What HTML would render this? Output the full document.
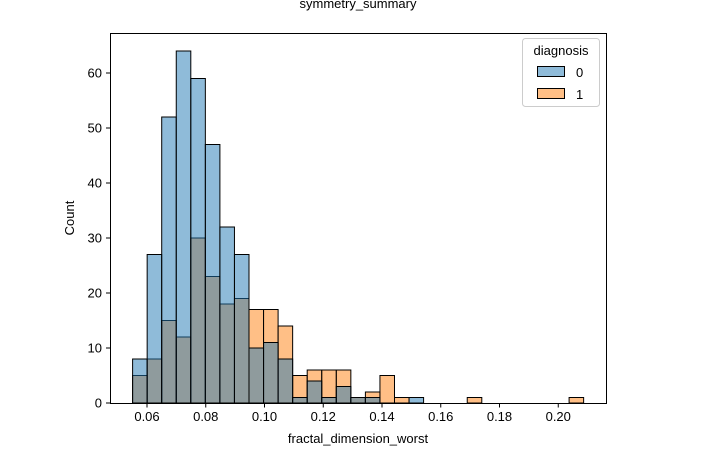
<!DOCTYPE html>
<html><head><meta charset="utf-8"><style>
body{margin:0;background:#fff;}
svg{display:block;font-family:"Liberation Sans","DejaVu Sans",sans-serif;}
</style></head><body>
<svg id="chart" width="704" height="456">
<text x="358" y="8" text-anchor="middle" font-size="13">symmetry_summary</text>
<g id="bars"></g>
<rect x="110.5" y="33.5" width="496" height="370" fill="none" stroke="#000" stroke-width="1"/>
<g id="axes"></g>
<text x="358" y="443" text-anchor="middle" font-size="13">fractal_dimension_worst</text>
<text transform="translate(74,218) rotate(-90)" text-anchor="middle" font-size="13">Count</text>
<g>
<rect x="522.5" y="38.5" width="77" height="68" rx="3" fill="#fff" fill-opacity="0.8" stroke="#ccc"/>
<text x="561" y="55" text-anchor="middle" font-size="13">diagnosis</text>
<g><rect x="537.5" y="66.5" width="27" height="10" fill="rgba(31,119,180,0.5)" stroke="#000"/><text x="576" y="77" font-size="13">0</text></g>
<g><rect x="537.5" y="88.5" width="27" height="10" fill="rgba(255,127,14,0.5)" stroke="#000"/><text x="576" y="99" font-size="13">1</text></g>
</g>
</svg>
<script>
const binStart = 0.0551;
const binWidth = 0.004953;
const counts0 = [8,27,52,64,59,47,32,27,10,11,8,1,4,1,3,1,1,0,0,1,0,0,0,0,0,0,0,0,0,0,0];
const counts1 = [5,8,15,12,30,23,18,19,17,17,14,5,6,6,6,1,2,5,1,0,0,0,0,1,0,0,0,0,0,0,1];
const xTicks = [0.06,0.08,0.10,0.12,0.14,0.16,0.18,0.20];
const xTickLabels = ["0.06","0.08","0.10","0.12","0.14","0.16","0.18","0.20"];
const yTicks = [0,10,20,30,40,50,60];
const NS = "http://www.w3.org/2000/svg";
function xs(v){return 147 + (v-0.06)*2937.5;}
function ys(v){return 403 - v*5.5;}
const bars = document.getElementById('bars');
function drawSeries(counts, fill, name){
  counts.forEach((c,i)=>{
    if(c<=0) return;
    const x0 = xs(binStart + i*binWidth), x1 = xs(binStart + (i+1)*binWidth);
    const r = document.createElementNS(NS,'rect');
    r.setAttribute('x',x0); r.setAttribute('y',ys(c));
    r.setAttribute('width',x1-x0); r.setAttribute('height',ys(0)-ys(c));
    r.setAttribute('fill',fill); r.setAttribute('stroke','#000'); r.setAttribute('stroke-width','1');
    
    
    bars.appendChild(r);
  });
}
drawSeries(counts1,'rgba(255,127,14,0.5)','diagnosis-1');
drawSeries(counts0,'rgba(31,119,180,0.5)','diagnosis-0');
const axes = document.getElementById('axes');
xTicks.forEach((t,i)=>{
  const x = xs(t);
  const l = document.createElementNS(NS,'line');
  l.setAttribute('x1',x); l.setAttribute('x2',x); l.setAttribute('y1',403); l.setAttribute('y2',407.5); l.setAttribute('stroke','#000');
  
  
  axes.appendChild(l);
  const tx = document.createElementNS(NS,'text');
  tx.setAttribute('x',x); tx.setAttribute('y',421); tx.setAttribute('text-anchor','middle'); tx.setAttribute('font-size','13');
  tx.textContent = xTickLabels[i];
  
  
  axes.appendChild(tx);
});
yTicks.forEach(t=>{
  const y = ys(t);
  const l = document.createElementNS(NS,'line');
  l.setAttribute('x1',106); l.setAttribute('x2',110.5); l.setAttribute('y1',y); l.setAttribute('y2',y); l.setAttribute('stroke','#000');
  
  
  axes.appendChild(l);
  const tx = document.createElementNS(NS,'text');
  tx.setAttribute('x',102); tx.setAttribute('y',y+4.5); tx.setAttribute('text-anchor','end'); tx.setAttribute('font-size','13');
  tx.textContent = String(t);
  
  
  axes.appendChild(tx);
});
</script>
</body></html>
